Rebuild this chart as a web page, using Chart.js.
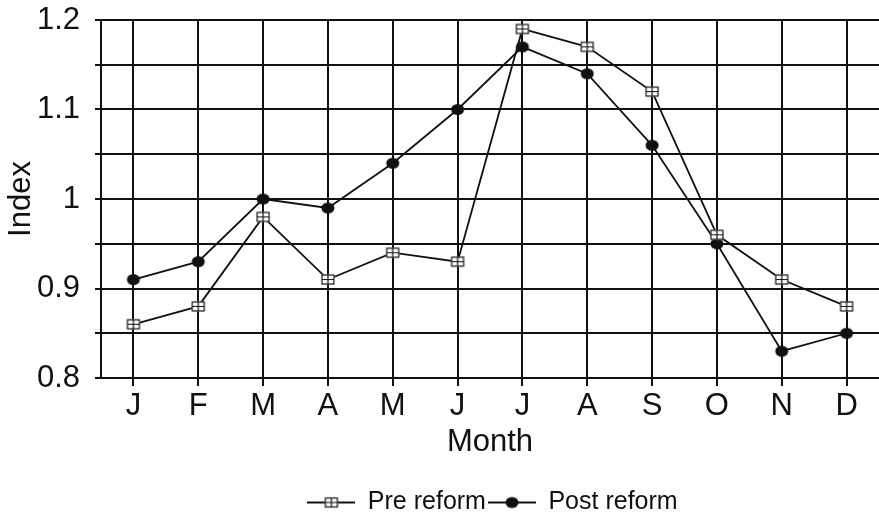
<!DOCTYPE html>
<html>
<head>
<meta charset="utf-8">
<script src="https://cdn.jsdelivr.net/npm/chart.js@4"></script>
<style>
  html, body { margin: 0; padding: 0; background: #fff; }
  #wrap { width: 879px; height: 515px; }
</style>
</head>
<body>
<div id="wrap"><canvas id="indexChart"></canvas></div>
<script>
const months = ['J', 'F', 'M', 'A', 'M', 'J', 'J', 'A', 'S', 'O', 'N', 'D'];
const preReform = [0.86, 0.88, 0.98, 0.91, 0.94, 0.93, 1.19, 1.17, 1.12, 0.96, 0.91, 0.88];
const postReform = [0.91, 0.93, 1.00, 0.99, 1.04, 1.10, 1.17, 1.14, 1.06, 0.95, 0.83, 0.85];
const yTickValues = [0.8, 0.85, 0.9, 0.95, 1.0, 1.05, 1.1, 1.15, 1.2];
const yTickLabels = ['0.8', '', '0.9', '', '1', '', '1.1', '', '1.2'];

const ink = '#111';
const fontFamily = "'Liberation Sans', Arial, sans-serif";

// open square with a cross inside
function drawSquare(g, cx, cy) {
    g.fillStyle = '#fff';
    g.fillRect(cx - 6.5, cy - 5, 13, 10);
    g.strokeStyle = ink;
    g.lineWidth = 1.2;
    g.strokeRect(cx - 6, cy - 4.5, 12, 9);
    g.beginPath();
    g.moveTo(cx, cy - 4.5); g.lineTo(cx, cy + 4.5);
    g.moveTo(cx - 6, cy); g.lineTo(cx + 6, cy);
    g.stroke();
}

function drawDot(g, cx, cy) {
    g.fillStyle = ink;
    g.beginPath();
    g.ellipse(cx, cy, 6.5, 5.5, 0, 0, Math.PI * 2);
    g.fill();
}

function markerImage(draw) {
    const c = document.createElement('canvas');
    c.width = 16; c.height = 13;
    draw(c.getContext('2d'), 8, 6.5);
    return c;
}

function legendImage(draw) {
    const c = document.createElement('canvas');
    c.width = 48; c.height = 14;
    const g = c.getContext('2d');
    g.strokeStyle = ink;
    g.lineWidth = 1.8;
    g.beginPath(); g.moveTo(0, 7); g.lineTo(48, 7); g.stroke();
    draw(g, 24, 7);
    return c;
}

const squareMarker = markerImage(drawSquare);
const dotMarker = markerImage(drawDot);
const legendIcons = [legendImage(drawSquare), legendImage(drawDot)];

// legend in the reference sits right of the canvas centre
const legendShift = {
    id: 'legendShift',
    afterLayout(chart) { chart.legend.left += 106; }
};

const ctx = document.getElementById('indexChart').getContext('2d');
new Chart(ctx, {
    type: 'line',
    data: {
        labels: months,
        datasets: [{
            label: 'Pre reform',
            data: preReform,
            borderColor: ink,
            borderWidth: 1.8,
            pointStyle: squareMarker,
            tension: 0
        }, {
            label: 'Post reform',
            data: postReform,
            borderColor: ink,
            borderWidth: 1.8,
            pointStyle: dotMarker,
            tension: 0
        }]
    },
    options: {
        responsive: true,
        maintainAspectRatio: false,
        animation: false,
        layout: { autoPadding: false, padding: { top: 20, right: 0, left: 0, bottom: -10 } },
        plugins: {
            tooltip: { enabled: false },
            legend: {
                position: 'bottom',
                labels: {
                    color: ink,
                    font: { family: fontFamily, size: 25 },
                    usePointStyle: true,
                    pointStyleWidth: 48,
                    padding: 2,
                    generateLabels: chart => chart.data.datasets.map((ds, i) => ({
                        text: ds.label,
                        pointStyle: legendIcons[i],
                        fillStyle: ink,
                        strokeStyle: ink,
                        lineWidth: 0,
                        fontColor: ink,
                        hidden: false,
                        datasetIndex: i
                    }))
                }
            }
        },
        scales: {
            x: {
                offset: true,
                grid: { color: ink, lineWidth: 2, tickLength: 8 },
                border: { color: ink, width: 2 },
                ticks: { color: ink, font: { family: fontFamily, size: 31 }, padding: 2, maxRotation: 0 },
                title: {
                    display: true,
                    text: 'Month',
                    color: ink,
                    font: { family: fontFamily, size: 31 },
                    padding: { top: 0, bottom: 27 }
                },
                afterFit: s => {
                    s.height = 110;
                    s.paddingLeft = 0;
                    s.paddingRight = 0;
                }
            },
            y: {
                min: 0.8,
                max: 1.2,
                afterBuildTicks: s => { s.ticks = yTickValues.map(v => ({ value: v })); },
                grid: { color: ink, lineWidth: 2, tickLength: 6 },
                border: { color: ink, width: 2 },
                ticks: {
                    color: ink,
                    font: { family: fontFamily, size: 31 },
                    padding: 15,
                    callback: (v, i) => yTickLabels[i]
                },
                title: {
                    display: true,
                    text: 'Index',
                    color: ink,
                    font: { family: fontFamily, size: 31 },
                    padding: { top: 3, bottom: 0 }
                },
                afterFit: s => {
                    s.width = 101;
                    s.paddingTop = 0;
                    s.paddingBottom = 0;
                }
            }
        }
    },
    plugins: [legendShift]
});
</script>
</body>
</html>
